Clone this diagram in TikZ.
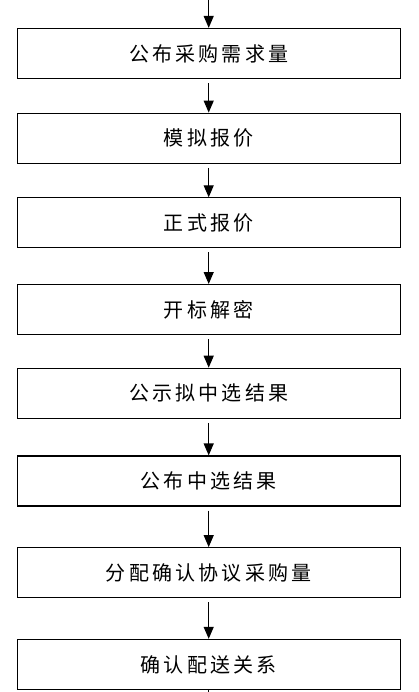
\documentclass[tikz,border=0pt]{standalone}
\usepackage{fontspec}
\newfontfamily\cjk[LetterSpace=16]{Noto Sans CJK SC}
\usepackage{tikz}
\usetikzlibrary{arrows.meta,positioning}

\begin{document}
\begin{tikzpicture}[>={Triangle[length=12pt,width=10pt]}, x=1pt, y=1pt,
	box/.style={draw, line width=1.2pt, minimum width=383pt, minimum height=50pt,
		font=\cjk\fontsize{20pt}{22pt}\selectfont, inner sep=0pt}]
	\useasboundingbox (0,0) rectangle (418,-692);

	% Nodes {b1, b2, b3, etc}
	\node [box] 	(b1) 	at (208.7,-53.5) 		{公布采购需求量};
	\node [box] 	(b2) 	[below=33.5pt of b1] 	{模拟报价};
	\node [box] 	(b3) 	[below=33.5pt of b2] 	{正式报价};
	\node [box] 	(b4) 	[below=35.5pt of b3] 	{开标解密};
	\node [box] 	(b5) 	[below=32.5pt of b4] 	{公示拟中选结果};
	\node [box] 	(b6) 	[below=36.5pt of b5] 	{公布中选结果};
	\node [box] 	(b7) 	[below=40.5pt of b6] 	{分配确认协议采购量};
	\node [box] 	(b8) 	[below=40.5pt of b7] 	{确认配送关系};

	% Loose ends, top and bottom
	\coordinate (top) at (b1.north |- 0,0);
	\coordinate (bot) at (b8.south |- 0,-692);

	% Top path
	\draw [->, line width=1.2pt] (top) -- (b1.north);

	% Steps
	\foreach \a/\b in {b1/b2, b2/b3, b3/b4, b4/b5, b5/b6, b6/b7, b7/b8}
		\draw [->, line width=1.2pt, shorten <=4pt] (\a.south) -- (\b.north);

	% Bottom path
	\draw [line width=1.2pt] (b8.south) -- (bot);

\end{tikzpicture}
\end{document}
